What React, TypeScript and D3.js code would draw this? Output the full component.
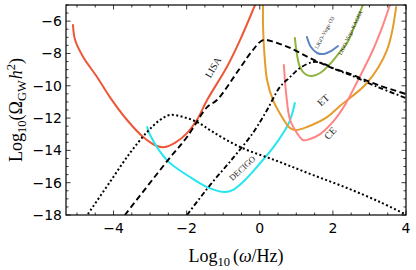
import React from "react";
import * as d3 from "d3";

const X_DOMAIN: [number, number] = [-5.3, 4];
const Y_DOMAIN: [number, number] = [-18, -5];
const X_TICKS = [-4, -2, 0, 2, 4];
const Y_TICKS = [-18, -16, -14, -12, -10, -8, -6];

const LISA: [number, number][] = [
  [-5.11, -6.24], [-5.05, -7.17], [-4.83, -8.22], [-4.45, -9.46], [-4.1, -10.7],
  [-3.63, -12.12], [-3.19, -13.17], [-2.81, -13.73], [-2.59, -13.79], [-2.32, -13.54],
  [-1.99, -12.93], [-1.72, -12.12], [-1.44, -10.88], [-0.9, -8.84], [-0.54, -7.17], [-0.13, -5.0],
];
const DECIGO: [number, number][] = [
  [-3.08, -12.55], [-3.0, -13.05], [-2.54, -14.6], [-1.91, -15.65], [-1.44, -16.27],
  [-0.95, -16.58], [-0.73, -16.45], [-0.46, -15.96], [-0.08, -15.03], [0.36, -13.85],
  [0.64, -12.93], [0.83, -12.12], [0.96, -11.07],
];
const ET: [number, number][] = [
  [0.09, -5.0], [0.09, -6.36], [0.14, -8.41], [0.2, -9.64], [0.36, -10.88], [0.61, -11.94],
  [0.83, -12.62], [0.99, -12.74], [1.29, -12.55], [1.84, -11.94], [2.19, -11.25],
  [2.93, -9.83], [3.48, -7.79], [3.73, -5.12],
];
const CE: [number, number][] = [
  [0.66, -8.72], [0.72, -10.45], [0.83, -12.12], [1.02, -12.93], [1.18, -13.36],
  [1.37, -13.3], [1.65, -12.99], [2.0, -12.24], [2.33, -11.19], [2.69, -9.64],
  [3.07, -7.91], [3.37, -6.24], [3.56, -5.0],
];
const LVK: [number, number][] = [
  [0.96, -7.04], [1.02, -8.1], [1.1, -8.84], [1.24, -9.27], [1.43, -9.4], [1.65, -9.21],
  [1.92, -8.65], [2.19, -7.91], [2.39, -7.35], [2.6, -6.24], [2.82, -5.0],
];
const O3: [number, number][] = [
  [1.29, -6.98], [1.4, -7.6], [1.57, -7.97], [1.76, -8.03], [1.95, -7.85], [2.14, -7.54],
];
const SIGNAL_DOTTED: [number, number][] = [
  [-4.7, -17.94], [-4.1, -15.96], [-3.55, -14.16], [-3.08, -12.86], [-2.73, -12.12],
  [-2.46, -11.81], [-2.1, -11.93], [-1.72, -12.24], [-1.28, -12.86], [-0.54, -13.79],
  [0.55, -14.72], [1.46, -15.53], [2.39, -16.33], [3.29, -17.2], [3.97, -17.94],
];
const SIGNAL_DASHED: [number, number][] = [
  [-3.69, -18.0], [-2.51, -14.6], [-1.99, -13.17], [-1.44, -11.32], [-1.17, -10.88],
  [-0.54, -8.9], [-0.19, -7.79], [0.09, -7.17], [0.4, -7.3], [0.83, -7.66], [1.37, -8.28],
  [1.92, -8.84], [2.47, -9.27], [3.23, -9.95], [4.0, -10.51],
];
const SIGNAL_DASHDOT: [number, number][] = [
  [-1.99, -18.0], [-1.36, -16.15], [-0.73, -14.47], [-0.19, -12.93], [0.2, -11.5],
  [0.55, -10.08], [0.83, -9.46], [1.1, -8.9], [1.46, -8.53], [1.7, -8.6], [2.11, -9.02],
  [2.47, -9.33], [3.23, -10.08], [4.0, -10.76],
];

const W = 416;
const H = 270;
const M = { left: 66, right: 10, top: 5, bottom: 55 };

export default function App() {
  const x = d3.scaleLinear().domain(X_DOMAIN).range([M.left, W - M.right]);
  const y = d3.scaleLinear().domain(Y_DOMAIN).range([H - M.bottom, M.top]);
  const line = d3
    .line<[number, number]>()
    .x((d) => x(d[0]))
    .y((d) => y(d[1]))
    .curve(d3.curveCatmullRom.alpha(0.5));

  const x0 = M.left, x1 = W - M.right, y0 = M.top, y1 = H - M.bottom;
  const xMinor = d3.range(-5, 4.01, 0.5);
  const yMinor = d3.range(-18, -4.99, 0.5);
  const isMajor = (v: number) => Math.abs(v / 2 - Math.round(v / 2)) < 1e-6;

  const curves = [
    { d: LISA, c: "#EE5638", w: 2 },
    { d: DECIGO, c: "#24E6EE", w: 2 },
    { d: ET, c: "#E59C2C", w: 2 },
    { d: CE, c: "#FF8585", w: 2 },
    { d: LVK, c: "#8DB43D", w: 2 },
    { d: O3, c: "#5C85C4", w: 2 },
  ];

  const labels = [
    { t: "LISA", x: 214, y: 68, r: -60, s: 10 },
    { t: "DECIGO", x: 243, y: 169, r: -43, s: 8.5 },
    { t: "ET", x: 324, y: 101, r: -42, s: 10 },
    { t: "CE", x: 331, y: 134, r: -48, s: 10 },
    { t: "LIGO-Virgo O3", x: 325, y: 33, r: -62, s: 5.5 },
    { t: "LIGO-Virgo-KAGRA", x: 351, y: 33, r: -64, s: 5.5 },
  ];

  return (
    <svg width={W} height={H} style={{ display: "block", position: "absolute", left: 0, top: 0 }}>
      <defs>
        <clipPath id="plot">
          <rect x={x0} y={y0} width={x1 - x0} height={y1 - y0} />
        </clipPath>
      </defs>
      <rect width={W} height={H} fill="#fff" />
      <g clipPath="url(#plot)" fill="none">
        {curves.map((c, i) => (
          <path key={i} d={line(c.d) || ""} stroke={c.c} strokeWidth={c.w} strokeLinecap="round" />
        ))}
        <path d={line(SIGNAL_DOTTED) || ""} stroke="#000" strokeWidth={2} strokeDasharray="2 2.4" />
        <path d={line(SIGNAL_DASHED) || ""} stroke="#000" strokeWidth={1.9} strokeDasharray="6 3.5" />
        <path d={line(SIGNAL_DASHDOT) || ""} stroke="#000" strokeWidth={1.9} strokeDasharray="5 2.5 1.8 2.5" />
      </g>
      {labels.map((l, i) => (
        <text
          key={i}
          transform={`translate(${l.x},${l.y}) rotate(${l.r})`}
          textAnchor="middle"
          dominantBaseline="middle"
          fontFamily="'Liberation Serif', 'DejaVu Serif', serif"
          fontSize={l.s}
          fill="#222"
        >
          {l.t}
        </text>
      ))}
      {/* ticks */}
      <g stroke="#222" strokeWidth={0.9}>
        {xMinor.map((v, i) => {
          const L = isMajor(v) ? 4.5 : 2.5;
          const px = x(v);
          return (
            <g key={i}>
              <line x1={px} x2={px} y1={y1} y2={y1 - L} />
              <line x1={px} x2={px} y1={y0} y2={y0 + L} />
            </g>
          );
        })}
        {yMinor.map((v, i) => {
          const L = isMajor(v) ? 4.5 : 2.5;
          const py = y(v);
          return (
            <g key={i}>
              <line x1={x0} x2={x0 + L} y1={py} y2={py} />
              <line x1={x1} x2={x1 - L} y1={py} y2={py} />
            </g>
          );
        })}
      </g>
      <rect x={x0} y={y0} width={x1 - x0} height={y1 - y0} fill="none" stroke="#000" strokeWidth={1.2} />
      <g fontFamily="'DejaVu Sans', sans-serif" fontSize={14} fill="#000">
        {X_TICKS.map((v) => (
          <text key={v} x={x(v)} y={y1 + 18} textAnchor="middle">
            {v < 0 ? "\u2212" + Math.abs(v) : String(v)}
          </text>
        ))}
        {Y_TICKS.map((v) => (
          <text key={v} x={x0 - 4} y={y(v)} textAnchor="end" dominantBaseline="central">
            {"\u2212" + Math.abs(v)}
          </text>
        ))}
      </g>
      <text
        x={(x0 + x1) / 2}
        y={262}
        textAnchor="middle"
        fontFamily="'Liberation Serif', serif"
        fontSize={18}
      >
        Log<tspan fontSize={12.5} dy={4}>10</tspan>
        <tspan dy={-4} dx={3}>(</tspan>
        <tspan fontStyle="italic">ω</tspan>/Hz)
      </text>
      <text
        transform={`translate(22,${(y0 + y1) / 2}) rotate(-90)`}
        textAnchor="middle"
        fontFamily="'Liberation Serif', serif"
        fontSize={18}
      >
        Log<tspan fontSize={12.5} dy={4}>10</tspan>
        <tspan dy={-4}>(Ω</tspan>
        <tspan fontSize={12.5} dy={4}>GW</tspan>
        <tspan dy={-4} dx={1} fontStyle="italic">h</tspan>
        <tspan fontSize={12.5} dy={-7}>2</tspan>
        <tspan dy={7}>)</tspan>
      </text>
    </svg>
  );
}
